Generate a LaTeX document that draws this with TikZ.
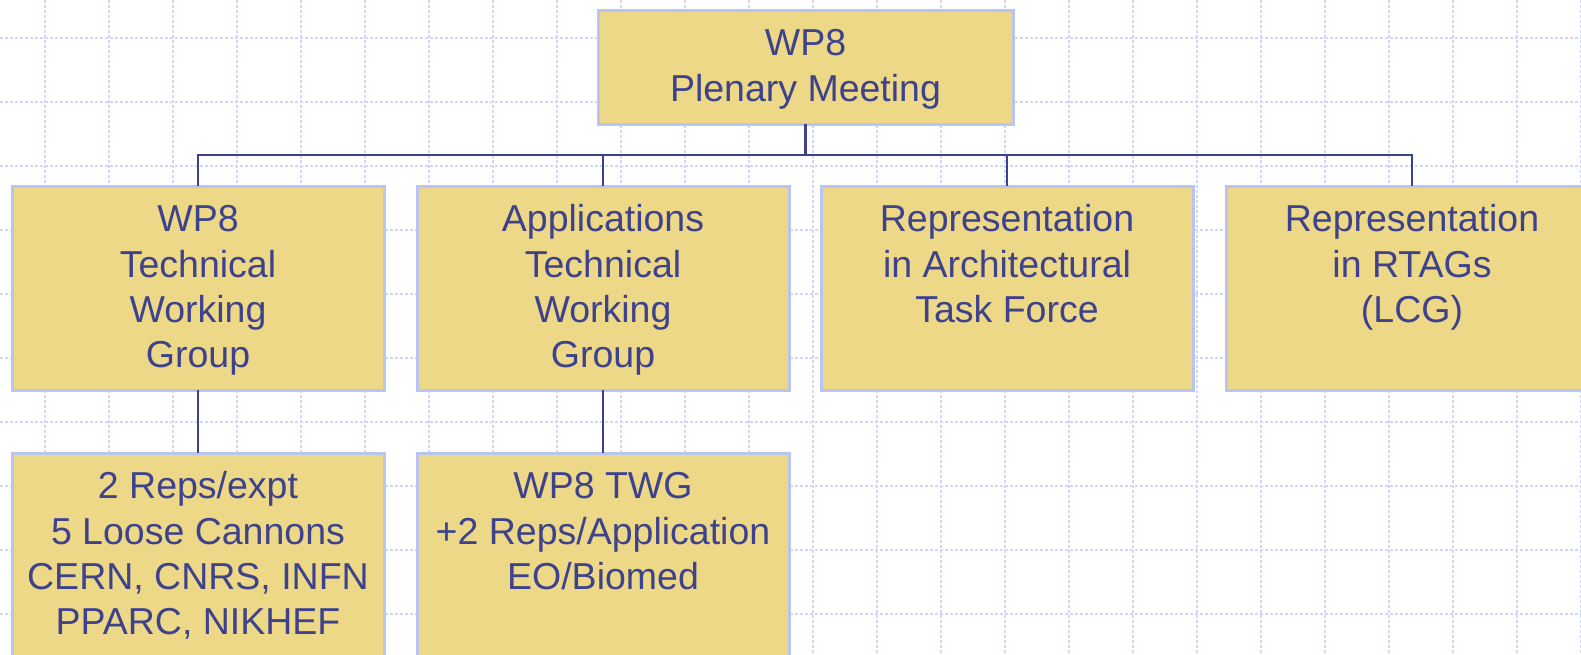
\documentclass[tikz,border=0pt]{standalone}
\usepackage{fontspec}
\setmainfont{Liberation Sans}
\definecolor{gridc}{RGB}{206,216,250}
\definecolor{boxfill}{RGB}{236,216,134}
\definecolor{boxline}{RGB}{186,196,240}
\definecolor{ink}{RGB}{62,66,140}
\begin{document}
\begin{tikzpicture}[x=1pt,y=-1pt,
  gridline/.style={draw=gridc,line width=2pt,dash pattern=on 3pt off 2pt},
  box/.style={draw=boxline,fill=boxfill,line width=3pt,rectangle,anchor=north west,inner sep=0pt,outer sep=0pt},
  txt/.style={text=ink,align=center,inner sep=0pt,anchor=north,font=\fontsize{37.5}{45.3}\selectfont},
  conn/.style={draw=ink,line width=2.4pt}]
\useasboundingbox (0,0) rectangle (1581,654);
\fill[white] (0,0) rectangle (1581,654);
% grid
\foreach \gx in {45,109,...,1581} \draw[gridline] (\gx,0) -- (\gx,654);
\foreach \gy in {38,102,...,654} \draw[gridline] (0,\gy) -- (1581,\gy);
% boxes
\node[box,minimum width=415pt,minimum height=114pt] (top) at (598,10) {};
\node[box,minimum width=372pt,minimum height=204pt] (b1) at (12,186) {};
\node[box,minimum width=372pt,minimum height=204pt] (b2) at (417,186) {};
\node[box,minimum width=372pt,minimum height=204pt] (b3) at (821,186) {};
\node[box,minimum width=372pt,minimum height=204pt] (b4) at (1226,186) {};
\node[box,minimum width=372pt,minimum height=230pt] (c1) at (12,453) {};
\node[box,minimum width=372pt,minimum height=230pt] (c2) at (417,453) {};
% texts
\node[txt] (ttop) at ([yshift=-13.8pt]top.north) {\strut WP8\\Plenary Meeting};
\node[txt] (tb1) at ([yshift=-13.8pt]b1.north) {\strut WP8\\Technical\\Working\\Group};
\node[txt] (tb2) at ([yshift=-13.8pt]b2.north) {\strut Applications\\Technical\\Working\\Group};
\node[txt] (tb3) at ([yshift=-13.8pt]b3.north) {\strut Representation\\in Architectural\\Task Force};
\node[txt] (tb4) at ([yshift=-13.8pt]b4.north) {\strut Representation\\in RTAGs\\(LCG)};
\node[txt] (tc1) at ([yshift=-13.8pt]c1.north) {\strut 2 Reps/expt\\5 Loose Cannons\\CERN, CNRS, INFN\\PPARC, NIKHEF};
\node[txt] (tc2) at ([yshift=-13.8pt]c2.north) {\strut WP8 TWG\\+2 Reps/Application\\EO/Biomed};
% connectors
\coordinate (bus) at (0,155);
\draw[conn] (top.south) -- (top.south |- bus);
\draw[conn] (b1.north) -- (b1.north |- bus) -- (b4.north |- bus) -- (b4.north);
\draw[conn] (b2.north |- bus) -- (b2.north);
\draw[conn] (b3.north |- bus) -- (b3.north);
\draw[conn] (b1.south) -- (c1.north);
\draw[conn] (b2.south) -- (c2.north);
\end{tikzpicture}
\end{document}
